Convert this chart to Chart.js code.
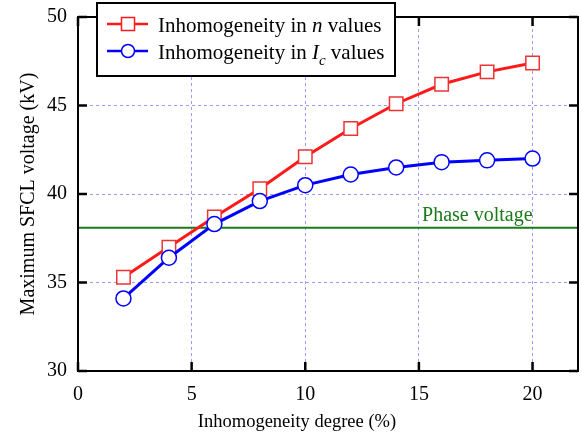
<!DOCTYPE html>
<html>
<head>
<meta charset="utf-8">
<script src="https://cdn.jsdelivr.net/npm/chart.js@4"></script>
<style>
  html, body { margin: 0; padding: 0; background: #fff; }
  #wrap { width: 582px; height: 436px; }
</style>
</head>
<body>
<div id="wrap"><canvas id="chart" width="582" height="436"></canvas></div>
<script>
const degrees = [2, 4, 6, 8, 10, 12, 14, 16, 18, 20];
const nValues = [35.3, 37.0, 38.7, 40.3, 42.1, 43.7, 45.1, 46.2, 46.9, 47.4];
const icValues = [34.1, 36.4, 38.3, 39.6, 40.5, 41.1, 41.5, 41.8, 41.9, 42.0];
const phaseVoltage = 38.1;
const xRange = [0, 22];
const yRange = [30, 50];

const serif = "'Liberation Serif', 'DejaVu Serif', serif";
const red = '#ff1a1a';
const blue = '#0000ff';
const green = '#1a7a1a';

const toPoints = (xs, ys) => xs.map((x, i) => ({ x: x, y: ys[i] }));

// frame, inward ticks, legend box, x title and the phase voltage label
const decorations = {
  id: 'decorations',
  afterDatasetsDraw(chart) {
    const { ctx, chartArea: a, scales: { x, y } } = chart;
    ctx.save();
    ctx.strokeStyle = '#000';
    ctx.lineWidth = 2.5;
    x.ticks.forEach(t => {
      const px = x.getPixelForValue(t.value);
      ctx.beginPath();
      ctx.moveTo(px, a.bottom); ctx.lineTo(px, a.bottom - 9);
      ctx.moveTo(px, a.top); ctx.lineTo(px, a.top + 9);
      ctx.stroke();
    });
    y.ticks.forEach(t => {
      const py = y.getPixelForValue(t.value);
      ctx.beginPath();
      ctx.moveTo(a.left, py); ctx.lineTo(a.left + 9, py);
      ctx.moveTo(a.right, py); ctx.lineTo(a.right - 9, py);
      ctx.stroke();
    });
    ctx.lineWidth = 2;
    ctx.strokeRect(a.left, a.top, a.right - a.left, a.bottom - a.top);

    // x axis title
    ctx.fillStyle = '#000';
    ctx.font = '18.5px ' + serif;
    ctx.textAlign = 'center';
    ctx.textBaseline = 'middle';
    ctx.fillText('Inhomogeneity degree (%)', 297, 422);

    // phase voltage label
    ctx.fillStyle = green;
    ctx.font = '20px ' + serif;
    ctx.textAlign = 'right';
    ctx.textBaseline = 'alphabetic';
    ctx.fillText('Phase voltage', x.getPixelForValue(degrees[degrees.length - 1]), y.getPixelForValue(phaseVoltage) - 7);

    // legend
    const bx = 97, by = 3, bw = 298, bh = 73;
    ctx.fillStyle = '#fff';
    ctx.fillRect(bx, by, bw, bh);
    ctx.strokeStyle = '#000';
    ctx.lineWidth = 2;
    ctx.strokeRect(bx, by, bw, bh);

    const rows = [
      { color: red, ds: chart.data.datasets[0], y: 24 },
      { color: blue, ds: chart.data.datasets[1], y: 51 }
    ];
    rows.forEach((r, i) => {
      ctx.strokeStyle = r.color;
      ctx.lineWidth = 2.5;
      ctx.beginPath();
      ctx.moveTo(107, r.y); ctx.lineTo(148, r.y);
      ctx.stroke();
      ctx.fillStyle = '#fff';
      ctx.lineWidth = 1.5;
      if (i === 0) {
        ctx.fillRect(121.5, r.y - 6.5, 13, 13);
        ctx.strokeRect(121.5, r.y - 6.5, 13, 13);
      } else {
        ctx.beginPath();
        ctx.arc(128, r.y, 6.5, 0, Math.PI * 2);
        ctx.fill(); ctx.stroke();
      }
      ctx.fillStyle = '#000';
      ctx.textAlign = 'left';
      let tx = 158;
      const base = r.y + 8;
      r.ds.richLabel.forEach(part => {
        ctx.font = (part.italic ? 'italic ' : '') + (part.sub ? '15px ' : '21px ') + serif;
        ctx.fillText(part.text, tx, base + (part.sub ? 6 : 0));
        tx += ctx.measureText(part.text).width;
      });
    });
    ctx.restore();
  }
};

new Chart(document.getElementById('chart'), {
  type: 'scatter',
  data: {
    datasets: [{
      label: 'Inhomogeneity in n values',
      richLabel: [{ text: 'Inhomogeneity in ' }, { text: 'n', italic: true }, { text: ' values' }],
      data: toPoints(degrees, nValues),
      showLine: true,
      borderColor: red,
      borderWidth: 3,
      pointStyle: 'rect',
      pointRadius: 9.5,
      pointBorderWidth: 1.5,
      pointBorderColor: '#ee3333',
      pointBackgroundColor: '#fff',
      order: 1
    }, {
      label: 'Inhomogeneity in Ic values',
      richLabel: [{ text: 'Inhomogeneity in ' }, { text: 'I', italic: true }, { text: 'c', italic: true, sub: true }, { text: ' values' }],
      data: toPoints(degrees, icValues),
      showLine: true,
      borderColor: blue,
      borderWidth: 3,
      pointStyle: 'circle',
      pointRadius: 7.5,
      pointBorderWidth: 1.5,
      pointBorderColor: blue,
      pointBackgroundColor: '#fff',
      order: 0
    }, {
      label: 'Phase voltage',
      data: toPoints(xRange, [phaseVoltage, phaseVoltage]),
      showLine: true,
      borderColor: green,
      borderWidth: 2,
      pointRadius: 0,
      order: 2
    }]
  },
  options: {
    responsive: false,
    animation: false,
    layout: { autoPadding: false, padding: { left: 17, top: 17, right: 4, bottom: 4 } },
    scales: {
      x: {
        type: 'linear',
        min: xRange[0], max: xRange[1],
        afterFit(s) { s.height = 61; s.paddingLeft = 0; s.paddingRight = 0; },
        ticks: { stepSize: 5, includeBounds: false, padding: 12, color: '#000', font: { family: serif, size: 20 } },
        grid: { color: '#9a9aff', lineWidth: 1, drawTicks: false },
        border: { display: false, dash: [3, 3] }
      },
      y: {
        min: yRange[0], max: yRange[1],
        afterFit(s) { s.width = 61; s.paddingTop = 0; s.paddingBottom = 0; },
        ticks: { stepSize: 5, padding: 11, color: '#000', font: { family: serif, size: 20 } },
        grid: { color: '#9a9aff', lineWidth: 1, drawTicks: false },
        border: { display: false, dash: [3, 3] },
        title: { display: true, text: 'Maximum SFCL voltage (kV)', color: '#000', font: { family: serif, size: 20 }, padding: { top: 0, bottom: 4 } }
      }
    },
    plugins: {
      legend: { display: false },
      tooltip: { enabled: false }
    }
  },
  plugins: [decorations]
});
</script>
</body>
</html>
